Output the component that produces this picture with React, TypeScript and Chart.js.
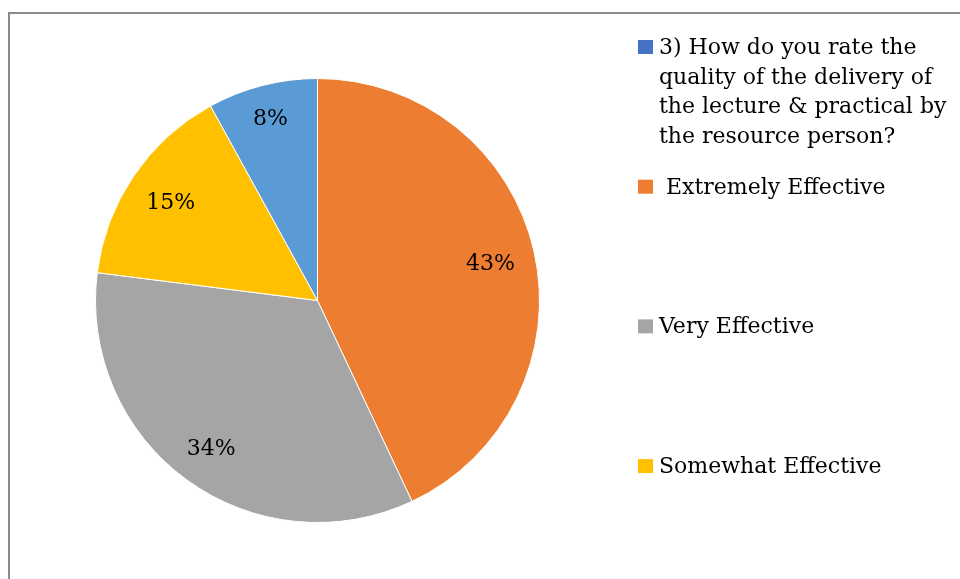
import React, { useEffect, useRef } from "react";
import { Chart, registerables } from "chart.js";

Chart.register(...registerables);

const categories = [
  "3) How do you rate the quality of the delivery of the lecture & practical by the resource person?",
  " Extremely Effective",
  "Very Effective",
  "Somewhat Effective",
  "Not Effective",
];
const values = [0, 43, 34, 15, 8];
const sliceColors = ["#4472C4", "#ED7D31", "#A5A5A5", "#FFC000", "#5B9BD5"];
const legendCount = 4;

const FONT_SIZE = 22;
const FONT = FONT_SIZE + "px 'DejaVu Serif'";

const labelPlugin = {
  id: "pieLabels",
  afterDatasetsDraw(chart: any) {
    const ctx = chart.ctx;
    const meta = chart.getDatasetMeta(0);
    const total = values.reduce((a, b) => a + b, 0);
    ctx.save();
    ctx.font = FONT;
    ctx.fillStyle = "#000000";
    ctx.textAlign = "center";
    ctx.textBaseline = "alphabetic";
    meta.data.forEach((arc: any, i: number) => {
      if (!values[i]) return;
      const p = arc.getProps(["x", "y", "startAngle", "endAngle", "outerRadius"], true);
      const mid = (p.startAngle + p.endAngle) / 2;
      const pct = Math.round((values[i] / total) * 100) + "%";
      const hw = ctx.measureText(pct).width / 2 + 1;
      const hh = FONT_SIZE * 0.45;
      const dx = Math.cos(mid);
      const dy = Math.sin(mid);
      // place label box along the mid ray so its farthest corner sits inside the rim
      const R = p.outerRadius * 0.92;
      const b = Math.abs(dx) * hw + Math.abs(dy) * hh;
      const c = hw * hw + hh * hh - R * R;
      const t = -b + Math.sqrt(b * b - c);
      const cx = p.x + dx * t;
      const cy = p.y + dy * t;
      ctx.fillText(pct, cx, cy + FONT_SIZE * 0.36);
    });
    ctx.restore();
  },
};

const legendPlugin = {
  id: "sideLegend",
  afterDraw(chart: any) {
    const ctx = chart.ctx;
    const markerX = 628;
    const textX = 649;
    const maxW = 292;
    const lineH = 29.5;
    const firstBaseline = 40;
    const step = 139.7;
    ctx.save();
    ctx.font = FONT;
    ctx.textAlign = "left";
    ctx.textBaseline = "alphabetic";
    for (let i = 0; i < legendCount; i++) {
      const baseline = firstBaseline + i * step;
      ctx.fillStyle = sliceColors[i];
      ctx.fillRect(markerX, baseline - 14, 15, 14);
      const words = categories[i].split(" ");
      const lines: string[] = [];
      let cur = "";
      words.forEach((w, k) => {
        const test = k === 0 ? w : cur + " " + w;
        if (ctx.measureText(test).width > maxW && cur.trim() !== "") {
          lines.push(cur);
          cur = w;
        } else {
          cur = test;
        }
      });
      lines.push(cur);
      ctx.fillStyle = "#000000";
      lines.forEach((ln, j) => ctx.fillText(ln, textX, baseline + j * lineH));
    }
    ctx.restore();
  },
};

export default function App() {
  const ref = useRef<HTMLCanvasElement | null>(null);
  useEffect(() => {
    if (!ref.current) return;
    const chart = new Chart(ref.current, {
      type: "pie",
      data: {
        labels: categories,
        datasets: [
          {
            data: values,
            backgroundColor: sliceColors,
            borderColor: "#ffffff",
            borderWidth: 1,
          },
        ],
      },
      options: {
        responsive: false,
        animation: false,
        devicePixelRatio: 1,
        layout: { padding: { left: 85, right: 420, top: 64, bottom: 56 } },
        plugins: {
          legend: { display: false },
          tooltip: { enabled: false },
        },
      },
      plugins: [labelPlugin, legendPlugin],
    });
    return () => chart.destroy();
  }, []);
  return (
    <div
      style={{
        position: "absolute",
        left: 8,
        top: 12,
        width: 950,
        height: 565,
        borderLeft: "2px solid #8a8a8a",
        borderTop: "2px solid #8a8a8a",
        background: "#ffffff",
      }}
    >
      <canvas ref={ref} width={950} height={565} style={{ display: "block", width: 950, height: 565 }} />
    </div>
  );
}
